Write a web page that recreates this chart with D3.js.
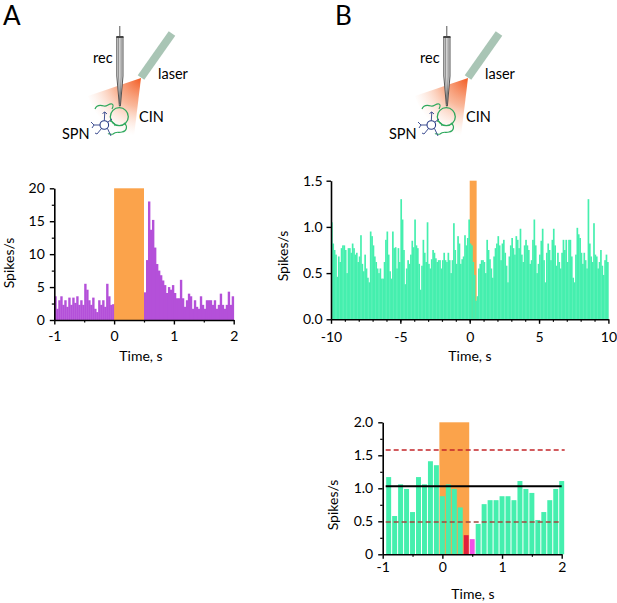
<!DOCTYPE html>
<html><head><meta charset="utf-8">
<script src="https://cdn.jsdelivr.net/npm/d3@7"></script>
<style>body{margin:0;background:#fff} svg text{font-family:Lato,'Open Sans',sans-serif;fill:#000}</style>
</head><body><svg id="c" width="617" height="603"></svg>
<script>
// ---------- DATA ----------
// Panel A: PSTH of SPN (bins of 1/30 s from -1 s to 2 s)
const aBinStart = -1, aBinWidth = 1/30;
const aValues = [
  3.6,1.7,3.0,3.6,2.3,3.0,2.0,3.4,2.3,3.4,2.6,3.6,2.3,3.0,2.3,5.5,4.6,3.0,2.3,3.4,1.7,1.2,3.0,2.3,3.0,2.0,5.5,3.6,2.3,2.4,
  2.5,3.0,2.0,2.5,3.0,2.0,2.2,2.5,3.0,2.0,2.5,3.0,2.8,3.2,4.0,
  4.2,9.1,18.0,13.7,15.2,11.0,8.5,7.5,6.8,6.0,5.3,4.1,5.0,4.6,5.3,4.1,3.3,3.3,6.1,3.3,2.0,3.0,4.0,3.6,1.7,3.0,2.0,1.7,3.6,2.3,
  1.7,3.0,3.0,3.0,2.3,3.0,1.7,2.3,4.0,2.3,1.7,2.3,4.3,2.3,3.6
];
const aLaser = [0, 0.5];
const aXTicks = [-1, 0, 1, 2];
const aYTicks = [0, 5, 10, 15, 20];

// Panel B: PSTH of CIN (bins of 0.1 s from -10 s to 10 s)
const bBinStart = -10, bBinWidth = 0.1;
const bValuesNeg = [
  1.05,0.82,0.75,0.70,0.46,0.68,0.62,0.77,0.80,0.80,
  0.75,0.50,0.77,0.77,0.72,0.82,0.77,0.70,0.72,0.62,
  0.68,0.91,0.60,0.52,0.70,0.55,0.45,0.40,0.95,0.90,
  0.80,0.68,0.62,0.55,0.50,0.55,0.44,0.44,0.62,0.86,
  0.95,0.70,0.52,0.44,0.95,0.77,0.78,0.55,0.77,0.62,
  1.30,1.08,0.75,0.38,0.55,0.64,0.60,0.70,0.85,0.78,
  1.08,0.80,0.77,0.60,0.32,0.58,0.86,0.72,0.62,1.05,
  0.60,0.55,0.65,0.75,0.72,0.66,0.62,0.64,0.64,0.55,
  0.64,0.72,0.64,0.62,0.72,0.64,0.50,0.64,1.04,0.75,
  0.60,0.90,0.82,0.60,0.65,0.68,0.91,0.80,0.88,1.08
];
const bValuesPos = [
  0.82,0.80,0.62,0.48,0.20,0.25,0.55,0.60,0.64,0.64,
  0.62,0.50,0.86,0.75,0.65,0.55,0.45,0.68,0.77,0.82,
  0.90,0.80,0.64,0.82,0.86,0.72,0.58,0.40,0.68,0.80,
  0.88,0.77,0.70,0.90,0.86,0.77,0.98,0.70,0.62,0.80,
  0.86,0.80,0.75,0.60,0.64,0.86,1.08,0.80,0.50,0.60,
  0.70,0.85,0.98,0.64,0.40,0.72,0.82,0.75,0.64,0.86,
  0.98,0.80,0.58,0.72,0.62,0.55,0.72,0.86,0.75,0.86,
  0.62,0.86,0.86,0.68,0.45,0.40,0.70,0.99,0.92,0.88,
  0.72,0.60,0.72,0.64,0.55,1.30,0.82,0.68,0.62,1.04,
  0.70,0.68,0.55,0.62,0.75,0.58,0.48,0.64,0.70,0.62
];
const bLaser = [0, 0.5];
const bXTicks = [-10, -5, 0, 5, 10];
const bYTicks = [0, 0.5, 1.0, 1.5];

// Panel C: PSTH (bins of 0.1 s centred on -0.9 ... 2.0 s)
const cCenters = [-0.9,-0.8,-0.7,-0.6,-0.5,-0.4,-0.3,-0.2,-0.1,0.0,0.1,0.2,0.3,0.4,0.5,0.6,0.7,0.8,0.9,1.0,1.1,1.2,1.3,1.4,1.5,1.6,1.7,1.8,1.9,2.0];
const cValues = [1.17,0.58,1.06,0.99,0.64,1.17,1.06,1.41,1.35,0.88,1.06,0.99,0.71,0.29,0.23,0.46,0.76,0.82,0.82,0.88,0.88,0.82,1.11,0.99,0.93,0.52,0.64,0.82,0.99,1.11];
const cKind = cCenters.map(c => Math.abs(c-0.4)<1e-6 ? "sig" : Math.abs(c-0.5)<1e-6 ? "sig2" : "n");
const cLaser = [-0.05, 0.45];
const cMean = 1.03, cUpper = 1.58, cLower = 0.49;
const cXTicks = [-1, 0, 1, 2];
const cYTicks = [0, 0.5, 1.0, 1.5, 2.0];

// ---------- STYLE ----------
const PURPLE = "#b450d9", GREEN = "#45efae", ORANGE = "#fba34b";
const svg = d3.select("#c");
const intFmt = d => String(d);

function styleAxis(g){
  g.select(".domain").attr("stroke","#000").attr("stroke-width",1.6);
  g.selectAll(".tick line").attr("stroke","#000").attr("stroke-width",1.4);
  g.selectAll(".tick text").attr("font-size",14).attr("fill","#000").style("font-family","Lato");
}
function minorAxis(g, axis){
  g.call(axis); g.select(".domain").remove();
  g.selectAll(".tick line").attr("stroke","#000").attr("stroke-width",1.2);
}
function axes(x, y, o){
  const gx = svg.append("g").attr("transform",`translate(0,${y.range()[0]})`);
  minorAxis(gx, d3.axisBottom(x).tickValues(o.xMinor).tickSize(2.5).tickFormat(""));
  const gx2 = svg.append("g").attr("transform",`translate(0,${y.range()[0]})`)
    .call(d3.axisBottom(x).tickValues(o.xTicks).tickSize(4.5).tickSizeOuter(0).tickPadding(o.xPad).tickFormat(o.xFmt));
  styleAxis(gx2);
  const gy = svg.append("g").attr("transform",`translate(${x.range()[0]},0)`);
  if (o.yMinor) minorAxis(gy, d3.axisLeft(y).tickValues(o.yMinor).tickSize(2.5).tickFormat(""));
  const gy2 = svg.append("g").attr("transform",`translate(${x.range()[0]},0)`)
    .call(d3.axisLeft(y).tickValues(o.yTicks).tickSize(4.5).tickSizeOuter(0).tickPadding(o.yPad).tickFormat(o.yFmt));
  styleAxis(gy2);
  svg.append("text").attr("x",o.xt[0]).attr("y",o.xt[1]).attr("text-anchor","middle").attr("font-size",14).text("Time, s");
  svg.append("text").attr("transform",`translate(${o.yt[0]},${o.yt[1]}) rotate(-90)`).attr("text-anchor","middle")
    .attr("dy","0.35em").attr("font-size",14).text("Spikes/s");
}

// ---------- PANEL A ----------
{
  const x = d3.scaleLinear().domain([-1,2]).range([54.3,233.7]);
  const y = d3.scaleLinear().domain([0,20]).range([320,188.3]);
  svg.append("g").selectAll("rect").data(aValues).join("rect")
    .attr("x",(d,i)=>x(aBinStart+i*aBinWidth))
    .attr("width",(d,i)=>x(aBinStart+(i+1)*aBinWidth)-x(aBinStart+i*aBinWidth)+0.4)
    .attr("y",d=>y(d)).attr("height",d=>y(0)-y(d)).attr("fill",PURPLE);
  svg.append("rect").attr("x",x(aLaser[0])).attr("width",x(aLaser[1])-x(aLaser[0]))
    .attr("y",y(20)).attr("height",y(0)-y(20)).attr("fill",ORANGE);
  axes(x,y,{xTicks:aXTicks,xMinor:[-0.5,0.5,1.5],xFmt:intFmt,xPad:7,
    yTicks:aYTicks,yMinor:[2.5,7.5,12.5,17.5],yFmt:intFmt,yPad:5,
    xt:[141,361],yt:[9,263]});
}

// ---------- PANEL B ----------
{
  const bValues = bValuesNeg.concat(bValuesPos);
  const x = d3.scaleLinear().domain([-10,10]).range([331,608.4]);
  const y = d3.scaleLinear().domain([0,1.5]).range([319.3,180.7]);
  svg.append("rect").attr("x",x(bLaser[0])).attr("width",x(bLaser[1])-x(bLaser[0]))
    .attr("y",y(1.5)).attr("height",y(0)-y(1.5)).attr("fill",ORANGE);
  svg.append("g").selectAll("rect").data(bValues).join("rect")
    .attr("x",(d,i)=>x(bBinStart+i*bBinWidth))
    .attr("width",(d,i)=>x(bBinStart+(i+1)*bBinWidth)-x(bBinStart+i*bBinWidth)+0.3)
    .attr("y",d=>y(d)).attr("height",d=>y(0)-y(d)).attr("fill",GREEN);
  axes(x,y,{xTicks:bXTicks,xMinor:d3.range(-9,10),xFmt:intFmt,xPad:8,
    yTicks:bYTicks,yMinor:null,yFmt:d=>d.toFixed(1),yPad:4,
    xt:[470,361],yt:[283,256]});
}

// ---------- PANEL C ----------
{
  const x = d3.scaleLinear().domain([-1,2]).range([382.7,561.7]);
  const y = d3.scaleLinear().domain([0,2]).range([554.3,422.3]);
  svg.append("rect").attr("x",x(cLaser[0])).attr("width",x(cLaser[1])-x(cLaser[0]))
    .attr("y",y(2)).attr("height",y(0)-y(2)).attr("fill",ORANGE);
  const col = {n:GREEN, sig:"#e01f3d", sig2:"#f052e6"};
  svg.append("g").selectAll("rect").data(cValues).join("rect")
    .attr("x",(d,i)=>x(cCenters[i]-0.05)+0.5)
    .attr("width",(d,i)=>x(cCenters[i]+0.05)-x(cCenters[i]-0.05)-1)
    .attr("y",d=>y(d)).attr("height",d=>y(0)-y(d)).attr("fill",(d,i)=>col[cKind[i]]);
  svg.append("line").attr("x1",x(-0.95)).attr("x2",x(2.0)).attr("y1",y(cMean)).attr("y2",y(cMean))
    .attr("stroke","#000").attr("stroke-width",2);
  svg.append("line").attr("x1",x(-0.95)).attr("x2",x(2.05)).attr("y1",y(cUpper)).attr("y2",y(cUpper))
    .attr("stroke","#c4262a").attr("stroke-width",1.6).attr("stroke-dasharray","5,3");
  svg.append("line").attr("x1",x(-0.95)).attr("x2",x(2.0)).attr("y1",y(cLower)).attr("y2",y(cLower))
    .attr("stroke","#a2483e").attr("stroke-width",1.6).attr("stroke-dasharray","5,3");
  axes(x,y,{xTicks:cXTicks,xMinor:[-0.5,0.5,1.5],xFmt:intFmt,xPad:3,
    yTicks:cYTicks,yMinor:[0.25,0.75,1.25,1.75],yFmt:d=>d===0?"0":d.toFixed(1),yPad:5,
    xt:[473,599],yt:[333,505]});
}

// ---------- SCHEMATICS ----------
const defs = svg.append("defs");
const grad = defs.append("radialGradient").attr("id","cone").attr("gradientUnits","userSpaceOnUse")
  .attr("cx",141).attr("cy",78).attr("r",58);
grad.append("stop").attr("offset",0).attr("stop-color","#f25a22").attr("stop-opacity",1);
grad.append("stop").attr("offset",0.5).attr("stop-color","#f68a5a").attr("stop-opacity",0.6);
grad.append("stop").attr("offset",1).attr("stop-color","#fcd4c0").attr("stop-opacity",0);

function scheme(dx){
  const g = svg.append("g").attr("transform",`translate(${dx},0)`);
  g.append("path").attr("d","M141,78 L88,96 Q98,128 134,136 Z").attr("fill","url(#cone)");
  g.append("line").attr("x1",141).attr("y1",77.5).attr("x2",172).attr("y2",33.5)
    .attr("stroke","#a9c5b5").attr("stroke-width",8);
  // pipette
  g.append("line").attr("x1",119.8).attr("y1",26).attr("x2",119.8).attr("y2",37).attr("stroke","#444").attr("stroke-width",0.9);
  g.append("path").attr("d","M116.8,37 L116.8,76 L119.4,106 L120.4,106 L123,76 L123,37 Z")
    .attr("fill","#e6e6e6").attr("stroke","#444").attr("stroke-width",0.9);
  g.append("path").attr("d","M118.7,37 L118.7,77 L119.7,104 M121.1,37 L121.1,77 L120.1,104")
    .attr("fill","none").attr("stroke","#555").attr("stroke-width",0.7);
  g.append("rect").attr("x",116.3).attr("y",36).attr("width",7.2).attr("height",2).attr("fill","#444");
  // CIN
  const cinC = "#2ea85c";
  g.append("circle").attr("cx",119.3).attr("cy",116.7).attr("r",9).attr("fill","none").attr("stroke",cinC).attr("stroke-width",1.3);
  g.append("path").attr("d","M95,109 C97,104 101,105 104,106 C107,107 109,103 112,104 C114,105 113,107 112,109")
    .attr("fill","none").attr("stroke",cinC).attr("stroke-width",1.2);
  g.append("path").attr("d","M124,123 C128,126 127,131 122,132 C118,133 116,131 113,134 C111,135 109,133 108,134")
    .attr("fill","none").attr("stroke",cinC).attr("stroke-width",1.2);
  g.append("path").attr("d","M110,121 C113,122 115,124 115,126")
    .attr("fill","none").attr("stroke",cinC).attr("stroke-width",1.1);
  // SPN
  const spnC = "#2b3d86";
  g.append("circle").attr("cx",104.3).attr("cy",125).attr("r",4.3).attr("fill","#fff").attr("stroke",spnC).attr("stroke-width",1.1);
  g.append("path").attr("d",
    "M104.3,120.7 L104.8,112 M102.5,113.5 L104.8,112 L107,114 " +
    "M100,125 L94,125 L91,122 M94,125 L92,128 " +
    "M101.5,128.5 L97,134 M97,134 L95,133 " +
    "M107.5,128.5 L111,136 " +
    "M108,122 L112,119")
    .attr("fill","none").attr("stroke",spnC).attr("stroke-width",0.9);
  g.append("text").attr("x",93).attr("y",63).attr("font-size",14.5).text("rec");
  g.append("text").attr("x",158).attr("y",79).attr("font-size",14.5).text("laser");
  g.append("text").attr("x",139).attr("y",122).attr("font-size",14.5).text("CIN");
  g.append("text").attr("x",62).attr("y",139).attr("font-size",14.5).text("SPN");
}
scheme(0);
scheme(327);

svg.append("text").attr("x",3).attr("y",25).attr("font-size",26).text("A");
svg.append("text").attr("x",335).attr("y",25).attr("font-size",26).text("B");
</script>
</body></html>
